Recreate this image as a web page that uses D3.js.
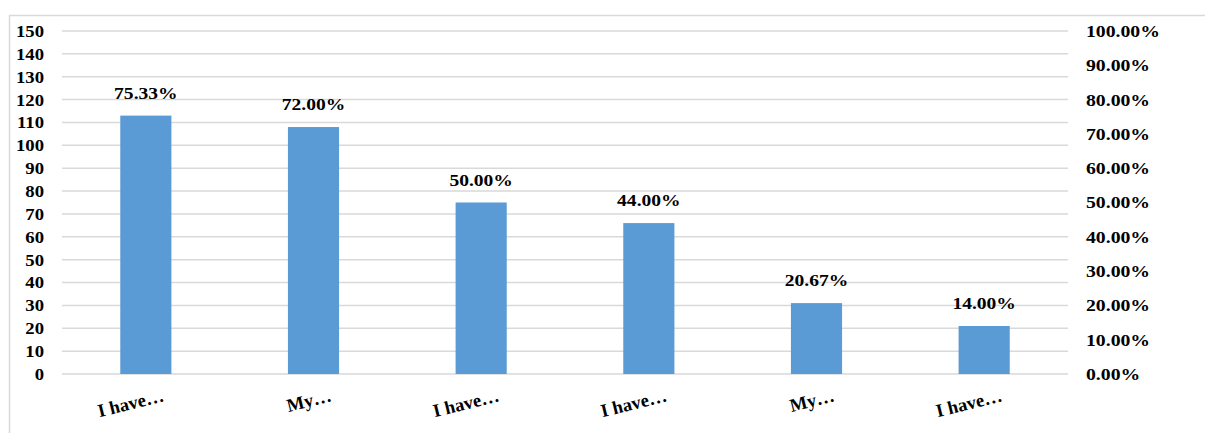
<!DOCTYPE html>
<html><head><meta charset="utf-8">
<script src="https://cdn.jsdelivr.net/npm/d3@7"></script>
<style>body{margin:0;background:#fff}svg{display:block}text{font-family:"Liberation Serif","Times New Roman",serif;font-weight:bold;fill:#000}</style>
</head><body><svg id="c" width="1205" height="433"></svg>
<script>
const categories = ["I have…","My…","I have…","I have…","My…","I have…"];
const counts = [113,108,75,66,31,21];
const percents = [75.33,72.00,50.00,44.00,20.67,14.00];
const leftTicks = [0,10,20,30,40,50,60,70,80,90,100,110,120,130,140,150];
const rightTicks = [0,10,20,30,40,50,60,70,80,90,100];

const svg = d3.select("#c");
svg.append("rect").attr("x",9.5).attr("y",15.5).attr("width",1200).attr("height",430)
  .attr("fill","none").attr("stroke","#d9d9d9").attr("stroke-width",1.5);

const x0 = 62, x1 = 1068, yb = 374, yt = 31;
const x = d3.scaleBand().domain(d3.range(categories.length)).range([x0,x1]).paddingInner(0.695).paddingOuter(0.3475);
const y = d3.scaleLinear().domain([0,150]).range([yb,yt]);
const yr = d3.scaleLinear().domain([0,100]).range([yb,yt]);

svg.append("g").selectAll("line").data(leftTicks).join("line")
  .attr("x1",x0).attr("x2",x1).attr("y1",d=>y(d)).attr("y2",d=>y(d))
  .attr("stroke","#d9d9d9").attr("stroke-width",1.5);

svg.append("g").selectAll("text").data(leftTicks).join("text")
  .attr("transform",d=>`translate(44,${y(d)}) scale(1.1,1)`).attr("dy","0.35em").attr("text-anchor","end")
  .style("font-size","17px").text(d=>d);

svg.append("g").selectAll("text").data(rightTicks).join("text")
  .attr("transform",d=>`translate(1086,${yr(d)}) scale(1.16,1)`).attr("dy","0.35em").attr("text-anchor","start")
  .style("font-size","17px").text(d=>d.toFixed(2)+"%");

svg.append("g").selectAll("rect").data(counts).join("rect")
  .attr("x",(d,i)=>x(i)).attr("width",x.bandwidth())
  .attr("y",d=>y(d)).attr("height",d=>yb-y(d)).attr("fill","#5b9bd5");

svg.append("g").selectAll("text").data(percents).join("text")
  .attr("transform",(d,i)=>`translate(${x(i)+x.bandwidth()/2},${y(counts[i])-17}) scale(1.15,1)`)
  .attr("text-anchor","middle").style("font-size","17px").text(d=>d.toFixed(2)+"%");

svg.append("g").selectAll("text").data(categories).join("text")
  .attr("transform",(d,i)=>`translate(${x(i)+x.bandwidth()/2+19},${yb+27}) rotate(-14)`)
  .attr("text-anchor","end").style("font-size","18.5px").text(d=>d);
</script></body></html>
